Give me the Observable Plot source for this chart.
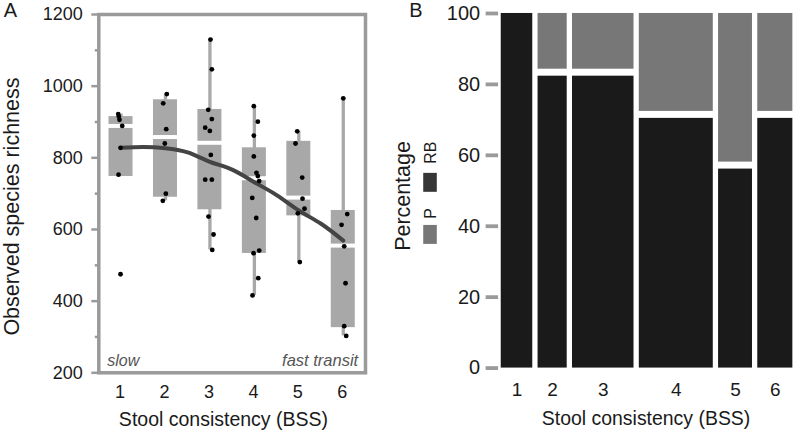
<!DOCTYPE html>
<html>
<head>
<meta charset="utf-8">
<script src="https://cdn.jsdelivr.net/npm/d3@7"></script>
<script src="https://cdn.jsdelivr.net/npm/@observablehq/plot@0.6"></script>
<style>
  html, body { margin: 0; padding: 0; background: #fff; }
  body { width: 795px; height: 431px; overflow: hidden; position: relative; font-family: "Liberation Sans", Arial, sans-serif; }
  #a { position: absolute; left: 0; top: 0; }
  #b { position: absolute; left: 395px; top: 0; }
</style>
</head>
<body>
<div id="a"></div>
<div id="b"></div>
<script>
// ---------- Panel A data ----------
const bss = [1, 2, 3, 4, 5, 6];
const boxQ1 = [748, 690, 655, 533, 638, 326];
const boxMedian = [889, 858, 842, 743, 689, 555];
const boxQ3 = [915, 962, 935, 828, 846, 653];
const whiskerLo = [748, 680, 543, 416, 509, 303];
const whiskerHi = [922, 978, 1131, 945, 874, 966];

// jittered sample positions (BSS) and observed richness
const pointBss = [
  0.937, 0.951, 0.966, 1.027, 0.989, 0.944, 0.989,
  2.030, 1.949, 2.017, 1.985, 2.008, 1.940,
  3.013, 3.043, 2.962, 3.043, 2.894, 2.998, 3.020, 2.894, 3.043, 2.968, 3.081, 3.052,
  3.988, 4.078, 3.988, 3.988, 4.048, 4.078, 4.109, 3.952, 4.042, 4.109, 3.981, 4.087, 3.958,
  4.964, 4.926, 5.076, 5.083, 5.128, 4.978, 5.022,
  6.000, 6.089, 5.961, 6.021, 6.051, 6.021, 6.066
];
const pointRichness = [
  922, 915, 906, 889, 828, 753, 475,
  978, 952, 880, 840, 700, 680,
  1130, 1047, 934, 908, 884, 875, 808, 739, 739, 636, 586, 543,
  944, 901, 862, 804, 758, 749, 735, 688, 632, 541, 534, 464, 416,
  874, 840, 745, 686, 658, 645, 509,
  966, 643, 613, 553, 450, 330, 303
];

// smooth fit
const fitBss = [1, 1.5, 2, 2.5, 3, 3.5, 4, 4.5, 5, 5.5, 6];
const fitRichness = [828, 830, 827, 815, 789, 767, 732, 696, 653, 616, 569];

const yMajor = [200, 400, 600, 800, 1000, 1200];
const yMinor = [300, 500, 700, 900, 1100];

// ---------- Panel B data ----------
const bssLabels = ["1", "2", "3", "4", "5", "6"];
const sampleShare = [12.4, 11.6, 22.5, 26.7, 13.2, 13.6]; // % of samples (bar widths)
const pctRB = [100, 83.3, 83.3, 71.4, 57.1, 71.4];
const pctP = [0, 16.7, 16.7, 28.6, 42.9, 28.6];
const pctTicks = [0, 20, 40, 60, 80, 100];
const seriesNames = ["RB", "P"];
const seriesColors = ["#1a1a1a", "#777777"];

const FONT = "'Liberation Sans', Arial, Helvetica, sans-serif";
const GRAY = "#9a9a9a";
const BOXGRAY = "#a8a8a8";
const fmt = d => String(d);

// ---------- Panel A ----------
const boxes = bss.map((b, i) => ({bss: b, q1: boxQ1[i], med: boxMedian[i], q3: boxQ3[i], lo: whiskerLo[i], hi: whiskerHi[i]}));
const points = pointBss.map((b, i) => ({bss: b, v: pointRichness[i]}));
const fit = fitBss.map((b, i) => ({bss: b, v: fitRichness[i]}));
const half = 0.27;

const plotA = Plot.plot({
  width: 395, height: 431,
  marginLeft: 98.3, marginRight: 30, marginTop: 14, marginBottom: 58.7,
  x: {domain: [0.5, 6.5]},
  y: {domain: [200, 1200]},
  style: {fontFamily: FONT, background: "white", color: "#1a1a1a", overflow: "visible"},
  marks: [
    Plot.ruleX(boxes, {x: "bss", y1: "lo", y2: "hi", stroke: BOXGRAY, strokeWidth: 3.3}),
    Plot.rect(boxes, {x1: d => d.bss - half, x2: d => d.bss + half, y1: "q1", y2: "q3", fill: BOXGRAY}),
    Plot.ruleY(boxes, {y: "med", x1: d => d.bss - half - 0.02, x2: d => d.bss + half + 0.02, stroke: "white", strokeWidth: 4}),
    Plot.line(fit, {x: "bss", y: "v", stroke: "#444", strokeWidth: 4, curve: "natural"}),
    Plot.dot(points, {x: "bss", y: "v", r: 2.4, fill: "black"}),
    Plot.frame({stroke: GRAY, strokeWidth: 3.5}),
    Plot.axisY({ticks: yMajor, tickFormat: fmt, tickSize: 7, tickPadding: 9, stroke: GRAY, strokeWidth: 2.5, fontSize: 18, label: null}),
    Plot.axisY({ticks: yMinor, tickSize: 3.5, tickFormat: () => "", stroke: GRAY, strokeWidth: 2.5, label: null}),
    Plot.axisX({ticks: bss, tickFormat: fmt, tickSize: 0, tickPadding: 12, fontSize: 18, dx: -1, label: null}),
    Plot.text(["Stool consistency (BSS)"], {frameAnchor: "bottom", dy: 46.7, dx: -8.7, fontSize: 19.5, lineAnchor: "middle", textAnchor: "middle", fill: "#1a1a1a"}),
    Plot.text(["Observed species richness"], {frameAnchor: "left", rotate: -90, dx: -86.6, dy: 12.9, fontSize: 21.5, lineAnchor: "middle", textAnchor: "middle", fill: "#1a1a1a"}),
    Plot.text(["slow"], {frameAnchor: "bottom-left", textAnchor: "start", dx: 8.4, dy: -12.4, fontSize: 16, fontStyle: "italic", fill: "#555", lineAnchor: "middle"}),
    Plot.text(["fast transit"], {frameAnchor: "bottom-right", textAnchor: "end", dx: -7.3, dy: -12.4, fontSize: 16.5, fontStyle: "italic", fill: "#555", lineAnchor: "middle"}),
    Plot.text(["A"], {frameAnchor: "top-left", dx: -88.3, dy: -3.5, fontSize: 20, lineAnchor: "middle", textAnchor: "middle", fill: "#1a1a1a"})
  ]
});
document.getElementById("a").appendChild(plotA);

// ---------- Panel B ----------
const cumEnd = d3.cumsum(sampleShare);
const groups = bssLabels.map((b, i) => ({bss: b, x1: cumEnd[i] - sampleShare[i], x2: cumEnd[i], rb: pctRB[i], p: pctP[i]}));
const rbRows = groups.map(g => ({...g, series: "RB", y1: 0, y2: g.rb}));
const pRows = groups.map(g => ({...g, series: "P", y1: g.rb, y2: 100}));

const legendMark = (index, scales, values, dims) => {
  const g = d3.create("svg:g");
  const col = s => (scales && scales.color) ? scales.color(s) : seriesColors[seriesNames.indexOf(s)];
  const keys = [{s: "RB", y: 173.3}, {s: "P", y: 225.5}];
  for (const k of keys) {
    g.append("rect").attr("x", 28.3).attr("y", k.y).attr("width", 13.6).attr("height", 19)
      .attr("fill", col(k.s)).attr("fill-opacity", k.s === "RB" ? 0.88 : 1);
  }
  return g.node();
};

const plotB = Plot.plot({
  width: 401, height: 431,
  marginLeft: 103.35, marginRight: 0, marginTop: 13, marginBottom: 62.5,
  x: {domain: [0, 100], axis: null},
  y: {domain: [0, 100]},
  color: {domain: seriesNames, range: seriesColors},
  style: {fontFamily: FONT, background: "white", color: "#1a1a1a", overflow: "visible"},
  marks: [
    Plot.rect(rbRows, {filter: d => d.p > 0, x1: "x1", x2: "x2", y1: "y1", y2: "y2", fill: "series", insetLeft: 2.65, insetRight: 2.65, insetTop: 3.5}),
    Plot.rect(rbRows, {filter: d => d.p === 0, x1: "x1", x2: "x2", y1: "y1", y2: "y2", fill: "series", insetLeft: 2.65, insetRight: 2.65}),
    Plot.rect(pRows, {filter: d => d.p > 0, x1: "x1", x2: "x2", y1: "y1", y2: "y2", fill: "series", insetLeft: 2.65, insetRight: 2.65, insetBottom: 3.5}),
    Plot.axisY({ticks: pctTicks, tickFormat: fmt, tickSize: 12.5, tickPadding: 6, stroke: GRAY, strokeWidth: 3.8, fontSize: 20, label: null}),
    Plot.text(groups, {x: d => (d.x1 + d.x2) / 2, text: "bss", frameAnchor: "bottom", dy: 21.5, fontSize: 19, lineAnchor: "middle", textAnchor: "middle", fill: "#1a1a1a"}),
    Plot.text(["Stool consistency (BSS)"], {frameAnchor: "bottom", dy: 50.5, dx: -1, fontSize: 19.5, lineAnchor: "middle", textAnchor: "middle", fill: "#1a1a1a"}),
    Plot.text(["Percentage"], {frameAnchor: "left", rotate: -90, dx: -95.35, dy: 5.25, fontSize: 21.5, lineAnchor: "middle", textAnchor: "middle", fill: "#1a1a1a"}),
    Plot.text(["RB"], {frameAnchor: "left", rotate: -90, dx: -68.2, dy: -38.25, fontSize: 16, lineAnchor: "middle", textAnchor: "middle", fill: "#1a1a1a"}),
    Plot.text(["P"], {frameAnchor: "left", rotate: -90, dx: -68.2, dy: 22.75, fontSize: 16, lineAnchor: "middle", textAnchor: "middle", fill: "#1a1a1a"}),
    legendMark,
    Plot.text(["B"], {frameAnchor: "top-left", dx: -82.85, dy: -2.5, fontSize: 20, lineAnchor: "middle", textAnchor: "middle", fill: "#1a1a1a"})
  ]
});
document.getElementById("b").appendChild(plotB);
</script>
</body>
</html>
